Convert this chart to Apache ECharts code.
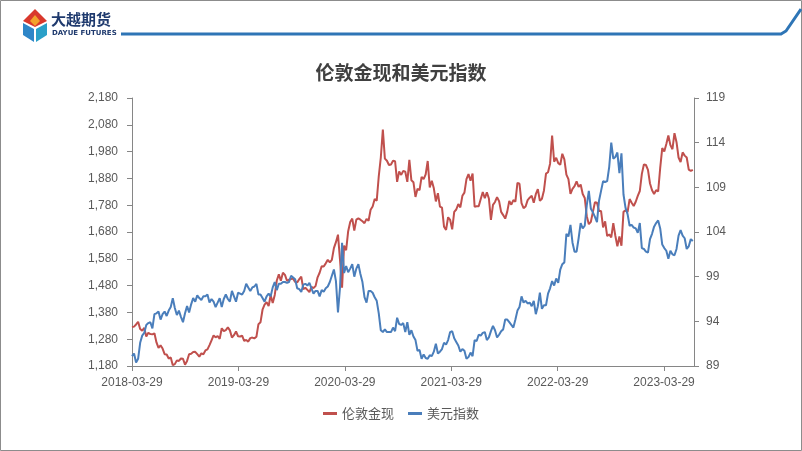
<!DOCTYPE html>
<html>
<head>
<meta charset="utf-8">
<script src="https://cdn.jsdelivr.net/npm/echarts@6/dist/echarts.min.js"></script>
<style>
html,body{margin:0;padding:0;background:#fff;}
#chart{width:802px;height:451px;}
</style>
</head>
<body>
<div id="chart"></div>
<script>
// ---- data (weekly readings, starting 2018-03-29, every 7 days) ----
const startDate = '2018-03-29';
const stepDays = 7;
const tickLabels = ['2018-03-29','2019-03-29','2020-03-29','2021-03-29','2022-03-29','2023-03-29'];
const seriesNames = ['伦敦金现','美元指数'];

const gold2018 = [1325,1327,1335,1345,1318,1312,1322,1290,1304,1299,1298,1302,1268,1248,1257,1245,1224,1223,1208,1212,1183,1187,1201,1199,1208,1207,1185,1199,1224,1226,1232,1233,1224,1215,1227,1224,1238,1242,1258,1276];
const gold2019 = [1294,1287,1292,1281,1321,1310,1314,1324,1313,1286,1295,1309,1291,1290,1293,1274,1277,1271,1284,1286,1283,1289,1336,1343,1390,1409,1418,1404,1444,1415,1445,1499,1522,1498,1528,1520,1498,1502,1505,1506,1494,1492,1504,1513,1467,1472,1464,1456,1475,1471,1478,1511];
const gold2020 = [1528,1552,1551,1563,1576,1567,1576,1620,1642,1670,1576,1472,1629,1612,1683,1717,1730,1685,1726,1731,1726,1720,1713,1729,1722,1763,1775,1803,1797,1888,1958,2062,1954,1946,1930,1932,1946,1944,1867,1906,1893,1908,1905,1867,1949,1873,1866,1811,1841,1836,1886,1877,1895];
const gold2021 = [1945,1846,1871,1843,1794,1825,1775,1771,1700,1688,1735,1725,1690,1755,1764,1784,1772,1815,1827,1877,1896,1871,1898,1774,1776,1776,1803,1829,1806,1828,1805,1725,1781,1792,1810,1795,1755,1743,1730,1756,1796,1782,1799,1793,1863,1860,1788,1769,1775,1799,1808,1815];
const gold2022 = [1789,1821,1840,1796,1804,1835,1898,1903,1935,2040,1942,1957,1937,1931,1972,1951,1894,1877,1822,1841,1851,1869,1848,1857,1822,1807,1739,1709,1718,1755,1791,1789,1758,1758,1697,1720,1665,1671,1660,1713,1666,1627,1663,1629,1755,1761,1754,1803,1789,1777,1793,1815];
const gold2023 = [1833,1897,1932,1930,1912,1861,1836,1822,1836,1831,1919,1993,1980,2008,2040,2004,1989,2049,2015,1958,1941,1977,1965,1958,1913,1908,1912];

const dxy2018 = [90.1,90.4,89.4,89.8,91.6,92.4,92.7,93.6,93.8,93.9,93.2,94.8,94.9,95.1,94.2,94.8,95.1,94.6,95.2,95.6,96.6,95.5,94.7,95.2,94.5,93.9,94.9,95.7,95.0,95.9,96.6,96.2,96.9,96.6,96.4,96.8,96.8,97.0,96.1,96.5];
const dxy2019 = [96.2,95.6,96.1,96.6,95.6,96.5,97.0,96.5,96.2,97.4,96.8,96.2,97.2,97.1,97.0,97.4,98.2,97.8,97.4,97.8,97.9,98.2,97.0,97.0,96.6,96.2,96.8,97.1,96.8,97.8,98.4,97.5,98.2,98.2,98.4,98.4,98.3,98.4,99.1,98.9,98.7,97.7,97.6,97.3,98.1,98.2,98.0,98.3,97.7,97.1,97.4,97.4];
const dxy2020 = [96.8,97.5,97.3,97.7,97.9,98.4,99.1,99.8,98.5,95.0,97.8,102.8,99.4,100.2,99.5,99.9,100.4,99.0,99.9,100.4,99.3,98.4,96.7,96.1,97.4,97.4,97.2,96.7,96.3,94.9,93.0,92.8,93.1,92.8,92.8,92.8,93.3,92.9,94.4,93.7,93.6,93.8,92.8,93.9,92.5,93.0,92.3,91.9,90.7,90.8,89.8,90.3,89.9];
const dxy2021 = [89.8,90.2,90.1,90.6,91.5,90.4,90.6,90.9,91.6,91.4,91.9,92.8,92.9,92.1,91.7,91.3,90.6,90.9,90.7,89.8,90.0,90.5,90.1,91.9,91.8,92.5,92.4,92.7,92.8,91.9,92.2,92.9,93.5,93.0,92.2,92.5,92.9,93.1,94.2,94.2,93.9,93.6,93.3,94.2,95.2,95.6,96.8,96.1,96.3,96.0,96.1,95.7];
const dxy2022 = [96.3,94.8,95.7,97.2,95.4,95.8,95.8,97.1,97.7,98.5,98.0,98.8,98.3,99.8,100.4,100.6,103.8,103.5,104.8,102.8,101.8,101.8,103.3,105.0,104.4,104.7,107.0,108.6,106.6,106.2,105.7,105.1,107.5,108.6,109.7,109.6,109.7,111.3,114.0,112.2,112.4,112.9,110.6,112.8,108.2,106.7,106.0,104.7,104.8,104.5,104.4,103.9];
const dxy2023 = [105.0,102.2,102.1,101.8,101.7,103.2,103.8,104.6,105.0,105.3,104.4,102.6,102.2,101.9,101.0,101.9,101.5,101.4,102.1,103.6,104.2,103.6,103.3,102.1,102.4,103.2,103.0];

// ---- build ----
const goldVals = [].concat(gold2018, gold2019, gold2020, gold2021, gold2022, gold2023);
const dxyVals = [].concat(dxy2018, dxy2019, dxy2020, dxy2021, dxy2022, dxy2023);
const goldData = goldVals.map((v, i) => [i * stepDays, v]);
const dxyData = dxyVals.map((v, i) => [i * stepDays, v]);
const YEAR = 365.25;

const chart = echarts.init(document.getElementById('chart'), null, {renderer: 'canvas'});
const axisColor = '#868686';
const labelColor = '#595959';
const numFont = 'Liberation Sans';

chart.setOption({
  animation: false,
  backgroundColor: '#ffffff',
  title: {
    text: '伦敦金现和美元指数',
    left: 'center',
    top: 58,
    textStyle: {fontSize: 19, fontWeight: 'bold', color: '#404040', fontFamily: 'Noto Sans CJK SC'}
  },
  legend: {
    data: seriesNames,
    top: 402,
    left: 'center',
    icon: 'rect',
    itemWidth: 14,
    itemHeight: 3,
    itemGap: 14,
    textStyle: {fontSize: 13, color: labelColor, fontFamily: 'Noto Sans CJK SC'}
  },
  grid: {left: 132, right: 108, top: 98, bottom: 85, containLabel: false},
  xAxis: {
    type: 'value',
    min: 0,
    max: 1929,
    interval: YEAR,
    axisLine: {show: true, lineStyle: {color: axisColor, width: 1}},
    axisTick: {show: true, length: 5, lineStyle: {color: axisColor}},
    splitLine: {show: false},
    axisLabel: {
      color: labelColor, fontSize: 12, fontFamily: numFont, margin: 11,
      showMaxLabel: false,
      formatter: function (v) {
        const k = Math.round(v / YEAR);
        return Math.abs(v - k * YEAR) < 1 && tickLabels[k] ? tickLabels[k] : '';
      }
    }
  },
  yAxis: [
    {
      type: 'value', position: 'left', min: 1180, max: 2180, interval: 100,
      axisLine: {show: true, lineStyle: {color: axisColor}},
      axisTick: {show: true, length: 5, lineStyle: {color: axisColor}},
      splitLine: {show: false},
      axisLabel: {
        color: labelColor, fontSize: 12, fontFamily: numFont, margin: 14,
        formatter: v => v.toLocaleString('en-US')
      }
    },
    {
      type: 'value', position: 'right', min: 89, max: 119, interval: 5,
      axisLine: {show: true, lineStyle: {color: axisColor}},
      axisTick: {show: true, length: 5, lineStyle: {color: axisColor}},
      splitLine: {show: false},
      axisLabel: {color: labelColor, fontSize: 12, fontFamily: numFont, margin: 12}
    }
  ],
  series: [
    {
      name: seriesNames[0], type: 'line', yAxisIndex: 0, data: goldData,
      showSymbol: false, symbol: 'none',
      lineStyle: {color: '#C0504D', width: 2}, itemStyle: {color: '#C0504D'}
    },
    {
      name: seriesNames[1], type: 'line', yAxisIndex: 1, data: dxyData,
      showSymbol: false, symbol: 'none',
      lineStyle: {color: '#4A7EBB', width: 2}, itemStyle: {color: '#4A7EBB'}
    }
  ],
  graphic: [
    {type: 'rect', shape: {x: 0.5, y: 0.5, width: 801, height: 450}, style: {fill: 'none', stroke: '#8c8c8c', lineWidth: 1}, silent: true},
    {type: 'polyline', shape: {points: [[121, 34], [781, 34], [786, 31], [801, 9]]}, style: {stroke: '#2E75B6', lineWidth: 3, fill: 'none'}, silent: true},
    // logo
    {type: 'polygon', shape: {points: [[35, 9], [47, 21], [35, 27], [23, 21]]}, style: {fill: '#D9382C'}, silent: true},
    {type: 'polygon', shape: {points: [[35, 15], [40, 21], [35, 26], [30, 21]]}, style: {fill: '#F2A22C'}, silent: true},
    {type: 'polygon', shape: {points: [[23, 23], [34, 29], [34, 42], [23, 35]]}, style: {fill: '#2E86C8'}, silent: true},
    {type: 'polygon', shape: {points: [[36, 29], [47, 23], [47, 35], [36, 42]]}, style: {fill: '#2AA0C8'}, silent: true},
    {type: 'text', left: 51, top: 12, style: {text: '大越期货', font: 'bold 15px "Noto Sans CJK SC"', fill: '#1F3A6E'}, silent: true},
    {type: 'text', left: 52, top: 30, style: {text: 'DAYUE FUTURES', font: 'bold 7px "DejaVu Sans"', fill: '#1F3A6E'}, silent: true}
  ]
});
</script>
</body>
</html>
